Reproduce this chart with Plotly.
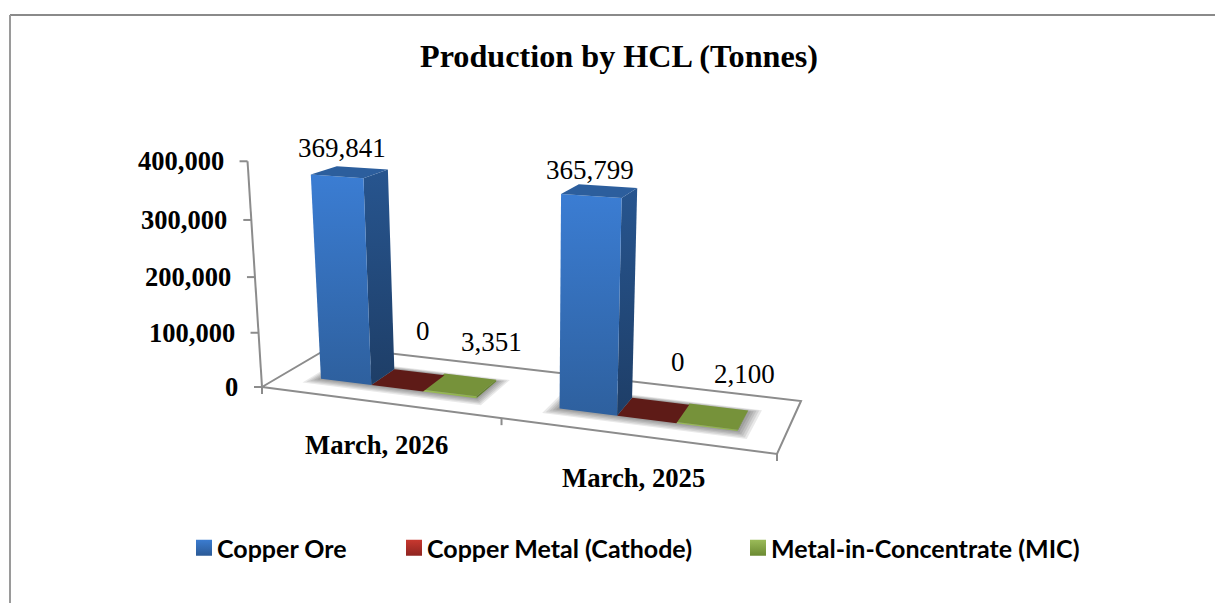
import numpy as np
import plotly.graph_objects as go

# ---------- data ----------
categories = ["March, 2026", "March, 2025"]
copper_ore = [369841, 365799]
copper_metal = [0, 0]
metal_in_concentrate = [3351, 2100]
series_names = ["Copper Ore", "Copper Metal (Cathode)", "Metal-in-Concentrate (MIC)"]
y_ticks = [0, 100000, 200000, 300000, 400000]
title_text = "Production by HCL (Tonnes)"

# ---------- 3-D camera: floor corners on the page, vanishing point of verticals ----------
FLOOR_SRC = [(0, 0), (2, 0), (2, 1), (0, 1)]
FLOOR_DST = [(262, 387), (777, 454), (801, 401), (331, 346.5)]
VP = np.array([530.0, 4570.0, 1.0])
AXIS_T = -0.0512
AXIS_MAX = 400000


def homography(src, dst):
    A, b = [], []
    for (u, v), (x, y) in zip(src, dst):
        A.append([u, v, 1, 0, 0, 0, -u * x, -v * x])
        A.append([0, 0, 0, u, v, 1, -u * y, -v * y])
        b += [x, y]
    return np.append(np.linalg.solve(np.array(A, float), np.array(b, float)), 1).reshape(3, 3)


H = homography(FLOOR_SRC, FLOOR_DST)
K = AXIS_T * (H @ np.array([0, 0, 1.0]))[2] / AXIS_MAX


def project(u, v, h=0.0):
    p = H @ np.array([u, v, 1.0]) + K * h * VP
    return p[0] / p[2], p[1] / p[2]


def closed(points):
    pts = [project(*q) for q in points]
    pts.append(pts[0])
    return [p[0] for p in pts], [p[1] for p in pts]


AXIS_GREY = "#8c8c8c"
SERIF = "Liberation Serif"
fig = go.Figure()


def add_line(points, width=2):
    xs, ys = zip(*points)
    fig.add_trace(go.Scatter(x=list(xs), y=list(ys), mode="lines", showlegend=False, hoverinfo="skip",
                             line=dict(color=AXIS_GREY, width=width)))


def add_face(points, top=None, bottom=None, shadow=None):
    xs, ys = closed(points)
    kw = dict(x=xs, y=ys, mode="lines", fill="toself", line=dict(width=0), showlegend=False, hoverinfo="skip")
    if shadow:
        kw["fillcolor"] = shadow
    elif bottom is None:
        kw["fillcolor"] = top
    else:
        # the page-style y axis runs downwards, so the first stop is the lower edge
        kw["fillgradient"] = dict(type="vertical", colorscale=[[0, bottom], [1, top]])
    fig.add_trace(go.Scatter(**kw))


# floor outline and axis
add_line([project(0, 0), project(2, 0), project(2, 1), project(0, 1), project(0, 0)])
add_line([project(0, 0), project(0, 0, AXIS_MAX)])
for t in y_ticks:
    x0, y0 = project(0, 0, t)
    add_line([(x0 - 8, y0), (x0, y0)])
for i in range(3):
    x0, y0 = project(i, 0)
    add_line([(x0, y0), (x0, y0 + 7)])

# bars
BAR_W = 1 / 4.5
V0, V1 = 0.30, 0.67
START = 0.75 * BAR_W
STYLES = [
    dict(front=("#3B7DD3", "#2E609E"), side=("#27558F", "#1E3E67"), top="#2C5E9D"),
    dict(front=("#B0302A", "#8A2420"), side=("#7E2320", "#5E1B17"), top="#5E1B17"),
    dict(front=("#9BBB59", "#8DB04A"), side=("#6B8A32", "#5E7A2C"), top="#76923A"),
]
all_series = [copper_ore, copper_metal, metal_in_concentrate]

for c in range(len(categories)):
    for k in range(5, 0, -1):
        e = k / 5
        a = c + START - 0.045 * e
        b = c + START + 3 * BAR_W + 0.045 * e
        add_face([(a, V0 - 0.12 * e, 0), (b, V0 - 0.12 * e, 0), (b, V1 + 0.06 * e, 0), (a, V1 + 0.06 * e, 0)],
                 shadow="rgba(0,0,0,0.085)")

for c in range(len(categories)):
    for s, vals in reversed(list(enumerate(all_series))):
        h = vals[c]
        u0 = c + START + s * BAR_W
        u1 = u0 + BAR_W
        st = STYLES[s]
        if h > 0:
            add_face([(u1, V0, h), (u1, V1, h), (u1, V1, 0), (u1, V0, 0)], *st["side"])
            add_face([(u0, V0, h), (u1, V0, h), (u1, V0, 0), (u0, V0, 0)], *st["front"])
        add_face([(u0, V0, h), (u1, V0, h), (u1, V1, h), (u0, V1, h)], st["top"])

# legends
LEG_X = [177, 387, 731]
LEG_COL = [("#3B7CD0", "#2B5A96"), ("#C8382F", "#8F2420"), ("#9BBB59", "#6B8A32")]
legend_layout = {}
for i, name in enumerate(series_names):
    key = "legend" if i == 0 else f"legend{i + 1}"
    fig.add_trace(go.Scatter(x=[None], y=[None], mode="markers", name=name, legend=key,
                             marker=dict(symbol="square", size=16, color=LEG_COL[i][0], line=dict(width=0),
                                         angle=90, standoff=7,
                                         gradient=dict(type="vertical", color=LEG_COL[i][1]))))
    legend_layout[key] = dict(x=LEG_X[i] / 1215, y=1 - 548 / 603, xanchor="left", yanchor="middle",
                              bgcolor="rgba(0,0,0,0)", itemsizing="trace", itemwidth=30,
                              font=dict(family="Lato", size=25, color="#000000", weight=700))

# texts
ann = []
for t in y_ticks:
    x0, y0 = project(0, 0, t)
    ann.append(dict(x=x0, y=y0, text=f"{t:,}", xanchor="right", yanchor="middle", xshift=-22, yshift=0,
                    xref="x", yref="y", showarrow=False,
                    font=dict(family=SERIF, size=26.5, color="#000000", weight=700)))
LABEL_SHIFT = [[(-9, 24), (14, 48), (31, 42)], [(-10, 21), (24, 47), (31, 41)]]
for c in range(len(categories)):
    for s, vals in enumerate(all_series):
        u = c + START + (s + 0.5) * BAR_W
        x0, y0 = project(u, 0.5, vals[c])
        dx, dy = LABEL_SHIFT[c][s]
        ann.append(dict(x=x0, y=y0, text=f"{vals[c]:,}", xanchor="center", yanchor="middle", xshift=dx, yshift=dy,
                        xref="x", yref="y", showarrow=False,
                        font=dict(family=SERIF, size=27, color="#000000")))
for c, name in enumerate(categories):
    x0, y0 = project(c + 0.5, 0)
    ann.append(dict(x=x0, y=y0, text=name, xanchor="center", yanchor="middle", xshift=-1, yshift=-43,
                    xref="x", yref="y", showarrow=False,
                    font=dict(family=SERIF, size=26.7, color="#000000", weight=700)))

fig.update_layout(
    width=1215, height=603, margin=dict(l=0, r=0, t=0, b=0),
    paper_bgcolor="white", plot_bgcolor="white",
    xaxis=dict(range=[0, 1215], visible=False, fixedrange=True),
    yaxis=dict(range=[603, 0], visible=False, fixedrange=True),
    title=dict(text=title_text, x=619 / 1215, y=1 - 56 / 603, xanchor="center", yanchor="middle",
               font=dict(family=SERIF, size=32.2, color="#000000", weight=700)),
    annotations=ann,
    shapes=[
        dict(type="line", xref="x", yref="y", x0=10, x1=1215, y0=15, y1=15, line=dict(color="#8a8a8a", width=2)),
        dict(type="line", xref="x", yref="y", x0=10, x1=10, y0=15, y1=603, line=dict(color="#9a9a9a", width=2)),
    ],
    **legend_layout,
)
fig.write_html("out.html", config=dict(displayModeBar=False),
               post_script="document.body.style.margin='0';document.body.style.overflow='hidden';")
